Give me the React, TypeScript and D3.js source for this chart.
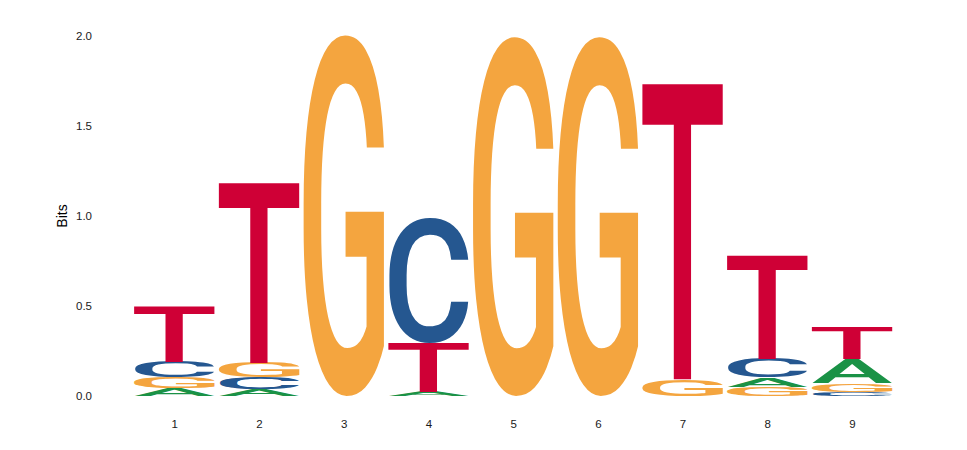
import React, { useEffect, useRef } from "react";
import * as d3 from "d3";

// sequence logo, bits per letter at each position
const positions = [1, 2, 3, 4, 5, 6, 7, 8, 9];
const bitsA = [0.044, 0.039, 0, 0.025, 0, 0, 0, 0.052, 0.135];
const bitsC = [0.086, 0.067, 0, 0.69, 0, 0, 0, 0.106, 0.024];
const bitsG = [0.058, 0.079, 2.0, 0, 1.99, 1.99, 0.093, 0.05, 0.047];
const bitsT = [0.312, 1.013, 0, 0.272, 0, 0, 1.66, 0.578, 0.181];
const yTicks = [0, 0.5, 1, 1.5, 2];

const letterColors: Record<string, string> = {
  A: "#1a9246",
  C: "#255790",
  G: "#f4a53f",
  T: "#cf0036",
};

const W = 967;
const H = 450;
const GLYPH_FONT = "Roboto";
const GLYPH_WEIGHT = 500;

const App: React.FC = () => {
  const svgRef = useRef<SVGSVGElement | null>(null);

  useEffect(() => {
    const svgElement = svgRef.current;
    if (!svgElement) return;
    const svg = d3.select(svgElement);
    svg.selectAll("*").remove();

    const x = d3.scaleLinear().domain([1, 9]).range([174.3, 852]);
    const y = d3.scaleLinear().domain([0, 2]).range([396, 36]);
    const colW = (x(2) - x(1)) * 0.955;

    // tight glyph bounds, so each letter can be stretched into its box
    const canvas = document.createElement("canvas");
    const ctx = canvas.getContext("2d")!;
    ctx.font = `${GLYPH_WEIGHT} 100px ${GLYPH_FONT}`;
    const metrics: Record<string, { l: number; r: number; a: number; d: number }> = {};
    ["A", "C", "G", "T"].forEach((ch) => {
      const m = ctx.measureText(ch);
      metrics[ch] = {
        l: m.actualBoundingBoxLeft,
        r: m.actualBoundingBoxRight,
        a: m.actualBoundingBoxAscent,
        d: m.actualBoundingBoxDescent,
      };
    });

    const stacks = positions.map((p, i) => {
      const items = [
        { ch: "A", bits: bitsA[i] },
        { ch: "C", bits: bitsC[i] },
        { ch: "G", bits: bitsG[i] },
        { ch: "T", bits: bitsT[i] },
      ]
        .filter((d) => d.bits > 0)
        .sort((a, b) => a.bits - b.bits);
      let acc = 0;
      return items.map((d) => {
        const y0 = acc;
        acc += d.bits;
        return { pos: p, ch: d.ch, y0, y1: acc };
      });
    });

    const letters = svg.append("g");
    stacks.flat().forEach((d) => {
      const m = metrics[d.ch];
      const x0 = x(d.pos) - colW / 2;
      const top = y(d.y1);
      const h = y(d.y0) - y(d.y1);
      const sx = colW / (m.l + m.r);
      const sy = h / (m.a + m.d);
      letters
        .append("text")
        .attr("x", 0)
        .attr("y", 0)
        .attr(
          "transform",
          `translate(${x0},${top}) scale(${sx},${sy}) translate(${m.l},${m.a})`
        )
        .attr("font-family", GLYPH_FONT)
        .attr("font-weight", GLYPH_WEIGHT)
        .attr("font-size", 100)
        .attr("fill", letterColors[d.ch])
        .text(d.ch);
    });

    const yAxis = d3
      .axisLeft(y)
      .tickValues(yTicks)
      .tickSize(0)
      .tickPadding(3)
      .tickFormat(d3.format(".1f"));
    svg
      .append("g")
      .attr("transform", "translate(95,0)")
      .call(yAxis)
      .call((g) => g.select(".domain").remove())
      .call((g) =>
        g
          .selectAll(".tick text")
          .attr("fill", "#1a1a1a")
          .attr("font-size", 11.5)
          .attr("font-family", "Liberation Sans, Arial, sans-serif")
      );

    const xAxis = d3
      .axisBottom(x)
      .tickValues(positions)
      .tickSize(0)
      .tickPadding(0)
      .tickFormat(d3.format("d"));
    svg
      .append("g")
      .attr("transform", "translate(0,420)")
      .call(xAxis)
      .call((g) => g.select(".domain").remove())
      .call((g) =>
        g
          .selectAll(".tick text")
          .attr("fill", "#1a1a1a")
          .attr("font-size", 11.5)
          .attr("font-family", "Liberation Sans, Arial, sans-serif")
      );

    svg
      .append("text")
      .attr("transform", "translate(67,216) rotate(-90)")
      .attr("text-anchor", "middle")
      .attr("font-family", "Liberation Sans, Arial, sans-serif")
      .attr("font-size", 14)
      .attr("fill", "#000")
      .text("Bits");
  }, []);

  return (
    <svg
      ref={svgRef}
      width={W}
      height={H}
      style={{ position: "absolute", left: 0, top: 0, background: "white" }}
    ></svg>
  );
};

export default App;
